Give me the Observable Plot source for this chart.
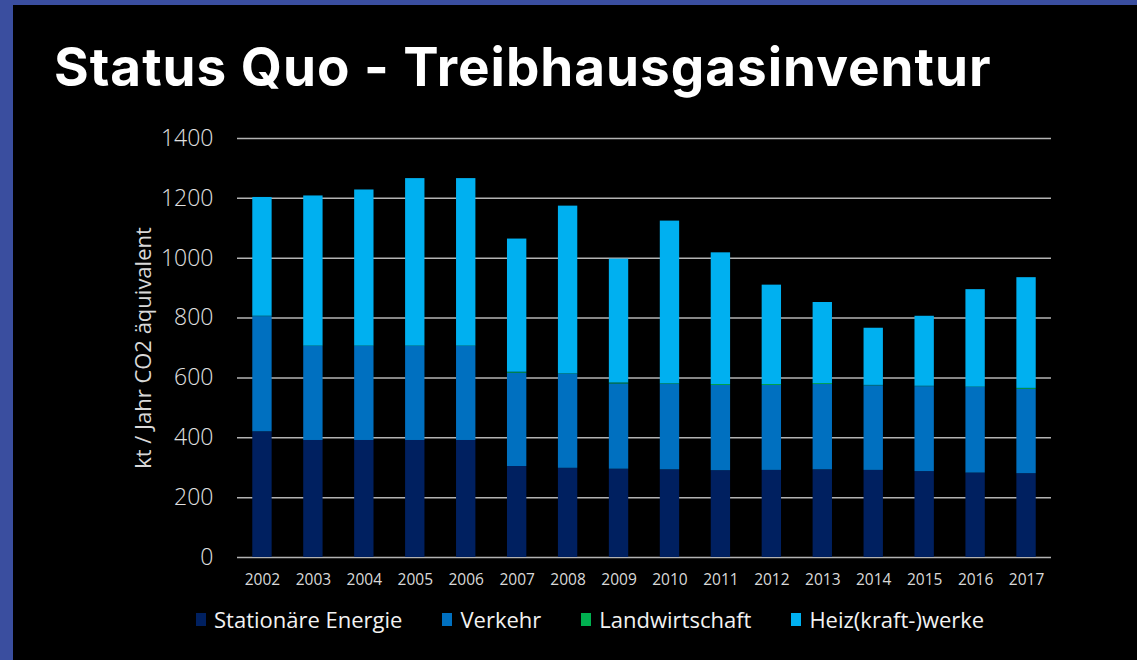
<!DOCTYPE html>
<html><head><meta charset="utf-8">
<script src="https://cdn.jsdelivr.net/npm/d3@7"></script>
<script src="https://cdn.jsdelivr.net/npm/@observablehq/plot@0.6"></script>
<style>
html,body{margin:0;padding:0;background:#000;}
body{width:1137px;height:660px;position:relative;overflow:hidden;}
#frameTop{position:absolute;left:0;top:0;width:1137px;height:5px;background:#3a4e9f;}
#frameLeft{position:absolute;left:0;top:0;width:13px;height:660px;background:#3a4e9f;}
#title{position:absolute;left:54px;top:37px;font-family:Inter,"Liberation Sans",sans-serif;font-weight:700;font-size:53px;line-height:60px;color:#fff;letter-spacing:1px;white-space:nowrap;}
#chart{position:absolute;left:0;top:0;}
#legend{position:absolute;left:196px;top:604px;display:flex;align-items:center;font-family:"Open Sans",sans-serif;font-size:22px;color:#f2f2f2;white-space:nowrap;}
.item{display:flex;align-items:center;margin-right:40px;}
.sw{width:10px;height:13px;margin-right:8px;}
</style>
</head><body>
<div id="frameTop"></div><div id="frameLeft"></div>
<div id="title">Status Quo - Treibhausgasinventur</div>
<div id="chart"></div>
<div id="legend"></div>
<script>
const years = ["2002","2003","2004","2005","2006","2007","2008","2009","2010","2011","2012","2013","2014","2015","2016","2017"];
const seriesNames = ["Stationäre Energie","Verkehr","Landwirtschaft","Heiz(kraft-)werke"];
const seriesColors = ["#002060","#0070C0","#00B050","#00B0F0"];
const stationaer = [420,391,391,391,391,304,298,295,293,290,291,293,291,287,282,280];
const verkehr = [385,314,314,314,314,312,314,285,285,285,284,285,283,284,286,282];
const landwirtschaft = [1,1,1,1,1,3,1,3,2,3,3,3,1,1,1,3];
const heizwerke = [397,502,522,560,560,445,561,414,544,440,332,271,191,234,326,370];
const yTicks = [0,200,400,600,800,1000,1200,1400];
const yLabel = "kt / Jahr CO2 äquivalent";

const rows = [];
[stationaer, verkehr, landwirtschaft, heizwerke].forEach((vals, i) =>
  vals.forEach((v, j) => rows.push({year: years[j], series: seriesNames[i], value: v})));

const plot = Plot.plot({
  width: 1137, height: 600,
  marginLeft: 237, marginRight: 86, marginTop: 138, marginBottom: 43,
  style: {background: "transparent", color: "#d9d9d9", fontFamily: "'Open Sans', sans-serif"},
  x: {domain: years, paddingInner: 0.62, paddingOuter: 0.3, round: false, label: null},
  y: {domain: [0, 1400], label: null},
  color: {domain: seriesNames, range: seriesColors},
  marks: [
    Plot.gridY(yTicks, {stroke: "#b3b3b3", strokeOpacity: 1, strokeWidth: 1.5}),
    Plot.barY(rows, {x: "year", y: "value", fill: "series", order: seriesNames}),
    Plot.axisX({tickSize: 0, tickPadding: 16, fontSize: 15.5, fill: "#d9d9d9", label: null}),
    Plot.axisY(yTicks, {tickSize: 0, tickPadding: 24, fontSize: 23, fontWeight: 300, fill: "#e0e0e0", tickFormat: d => String(d), label: null}),
    Plot.axisY({ticks: [], tickSize: 0, label: yLabel, labelAnchor: "center", labelOffset: 102, labelArrow: "none", fontSize: 22, fill: "#d9d9d9"})
  ]
});
document.getElementById("chart").appendChild(plot);

const legend = document.getElementById("legend");
seriesNames.forEach((name, i) => {
  const item = document.createElement("div"); item.className = "item";
  const sw = document.createElement("div"); sw.className = "sw"; sw.style.background = seriesColors[i];
  const t = document.createElement("span"); t.textContent = name;
  item.appendChild(sw); item.appendChild(t); legend.appendChild(item);
});
</script>
</body></html>
